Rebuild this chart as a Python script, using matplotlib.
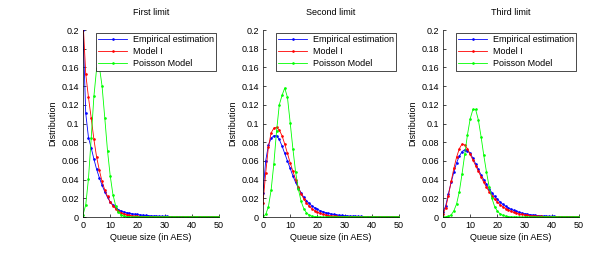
import matplotlib
matplotlib.use("Agg")
import matplotlib.pyplot as plt

plt.rcParams['font.family'] = ['Liberation Sans', 'DejaVu Sans']
plt.rcParams['font.size'] = 6.5

# queue sizes 0..50
queue = list(range(51))

titles = ["First limit", "Second limit", "Third limit"]

# First limit
emp1 = [0.200, 0.111, 0.085, 0.074, 0.062, 0.051, 0.042, 0.034, 0.027, 0.021, 0.016,
        0.013, 0.010, 0.008, 0.0065, 0.0055, 0.0047, 0.0041, 0.0036, 0.0031, 0.0027,
        0.0023, 0.0020, 0.0017, 0.0015, 0.0013, 0.0011, 0.0010, 0.0009, 0.0008, 0.0007,
        0.0006, 0.0005, 0.0005, 0.0004, 0.0004, 0.0003, 0.0003, 0.0003, 0.0002, 0.0002,
        0.0002, 0.0002, 0.0001, 0.0001, 0.0001, 0.0001, 0.0001, 0.0001, 0.0001, 0.0001]
mod1 = [0.210, 0.153, 0.128, 0.106, 0.083, 0.064, 0.050, 0.038, 0.029, 0.022, 0.016,
        0.012, 0.009, 0.0066, 0.0048, 0.0035, 0.0025, 0.0018, 0.0013, 0.0009, 0.0007,
        0.0005, 0.0003, 0.0002, 0.0002, 0.0001, 0.0001, 0, 0, 0, 0,
        0, 0, 0, 0, 0, 0, 0, 0, 0, 0,
        0, 0, 0, 0, 0, 0, 0, 0, 0, 0]
poi1 = [0.0025, 0.013, 0.041, 0.084, 0.129, 0.159, 0.161, 0.140, 0.106, 0.071, 0.044,
        0.024, 0.012, 0.0055, 0.0023, 0.0009, 0.0003, 0.0001, 0, 0, 0,
        0, 0, 0, 0, 0, 0, 0, 0, 0, 0,
        0, 0, 0, 0, 0, 0, 0, 0, 0, 0,
        0, 0, 0, 0, 0, 0, 0, 0, 0, 0]

# Second limit
emp2 = [0.026, 0.060, 0.077, 0.084, 0.087, 0.087, 0.083, 0.076, 0.068, 0.060, 0.052,
        0.044, 0.037, 0.031, 0.026, 0.021, 0.0175, 0.0145, 0.012, 0.010, 0.0083,
        0.0069, 0.0058, 0.0048, 0.0040, 0.0034, 0.0028, 0.0024, 0.0020, 0.0017, 0.0014,
        0.0012, 0.0010, 0.0009, 0.0008, 0.0007, 0.0006, 0.0005, 0.0004, 0.0004, 0.0003,
        0.0003, 0.0003, 0.0002, 0.0002, 0.0002, 0.0002, 0.0001, 0.0001, 0.0001, 0.0001]
mod2 = [0.015, 0.047, 0.075, 0.090, 0.095, 0.096, 0.093, 0.087, 0.078, 0.068, 0.058,
        0.049, 0.040, 0.032, 0.025, 0.0195, 0.015, 0.0115, 0.0088, 0.0067, 0.0051,
        0.0038, 0.0029, 0.0022, 0.0016, 0.0012, 0.0009, 0.0007, 0.0005, 0.0004, 0.0003,
        0.0002, 0.0002, 0.0001, 0.0001, 0.0001, 0, 0, 0, 0, 0,
        0, 0, 0, 0, 0, 0, 0, 0, 0, 0]
poi2 = [0.0004, 0.0027, 0.011, 0.029, 0.057, 0.092, 0.120, 0.130, 0.138, 0.128, 0.101,
        0.073, 0.048, 0.030, 0.017, 0.009, 0.0045, 0.0021, 0.0009, 0.0004, 0.0002,
        0.0001, 0, 0, 0, 0, 0, 0, 0, 0, 0,
        0, 0, 0, 0, 0, 0, 0, 0, 0, 0,
        0, 0, 0, 0, 0, 0, 0, 0, 0, 0]

# Third limit
emp3 = [0.005, 0.012, 0.025, 0.037, 0.048, 0.058, 0.065, 0.070, 0.072, 0.071, 0.068,
        0.063, 0.057, 0.051, 0.045, 0.040, 0.035, 0.030, 0.026, 0.022, 0.019,
        0.016, 0.0137, 0.0117, 0.0099, 0.0084, 0.0071, 0.0060, 0.0051, 0.0043, 0.0036,
        0.0031, 0.0026, 0.0022, 0.0019, 0.0016, 0.0013, 0.0011, 0.0009, 0.0008, 0.0007,
        0.0006, 0.0005, 0.0004, 0.0004, 0.0003, 0.0003, 0.0002, 0.0002, 0.0002, 0.0002]
mod3 = [0.003, 0.010, 0.023, 0.038, 0.052, 0.064, 0.073, 0.078, 0.077, 0.073, 0.067,
        0.061, 0.055, 0.049, 0.043, 0.037, 0.032, 0.027, 0.023, 0.019, 0.016,
        0.013, 0.011, 0.009, 0.0074, 0.0061, 0.0050, 0.0041, 0.0033, 0.0027, 0.0022,
        0.0018, 0.0014, 0.0011, 0.0009, 0.0007, 0.0006, 0.0005, 0.0004, 0.0003, 0.0002,
        0.0002, 0.0002, 0.0001, 0.0001, 0.0001, 0.0001, 0.0001, 0, 0, 0]
poi3 = [0, 0.0001, 0.0006, 0.0023, 0.0066, 0.014, 0.027, 0.046, 0.067, 0.088, 0.105,
        0.115, 0.115, 0.104, 0.086, 0.066, 0.048, 0.032, 0.020, 0.011, 0.0063,
        0.0034, 0.0018, 0.0009, 0.0004, 0.0002, 0.0001, 0, 0, 0, 0,
        0, 0, 0, 0, 0, 0, 0, 0, 0, 0,
        0, 0, 0, 0, 0, 0, 0, 0, 0, 0]

panels = [(emp1, mod1, poi1), (emp2, mod2, poi2), (emp3, mod3, poi3)]
lefts = [0.135, 0.4276, 0.7203]

fig = plt.figure(figsize=(6.15, 2.56), dpi=100)

for i, (emp, mod, poi) in enumerate(panels):
    ax = fig.add_axes([lefts[i], 0.1523, 0.2211, 0.7305])
    kw = dict(marker='.', markersize=1.8, linewidth=0.6)
    ax.plot(queue, emp, color='#0000ff', label='Empirical estimation', **kw)
    ax.plot(queue, mod, color='#ff0000', label='Model I', **kw)
    ax.plot(queue, poi, color='#00ff00', label='Poisson Model', **kw)
    ax.set_xlim(0, 50)
    ax.set_ylim(0, 0.2)
    ax.set_xticks([0, 10, 20, 30, 40, 50])
    yt = [0, 0.02, 0.04, 0.06, 0.08, 0.1, 0.12, 0.14, 0.16, 0.18, 0.2]
    ax.set_yticks(yt)
    ax.set_yticklabels(['0' if v == 0 else ('%g' % v) for v in yt])
    ax.tick_params(direction='in', length=2.5, width=0.5, pad=3)
    ax.spines['top'].set_visible(False)
    ax.spines['right'].set_visible(False)
    ax.spines['left'].set_linewidth(0.5)
    ax.spines['bottom'].set_linewidth(0.5)
    ax.set_title(titles[i], fontsize=6.5, pad=11)
    ax.set_xlabel('Queue size (in AES)', labelpad=2)
    ax.set_ylabel('Distribution', labelpad=3)
    leg = ax.legend(loc='upper right', fontsize=6.5, fancybox=False, framealpha=1,
                    edgecolor='black', handlelength=3.2, borderaxespad=0.3,
                    labelspacing=0.3, borderpad=0.3, handletextpad=0.6)
    leg.get_frame().set_linewidth(0.5)

fig.savefig('out.png', dpi=100)
